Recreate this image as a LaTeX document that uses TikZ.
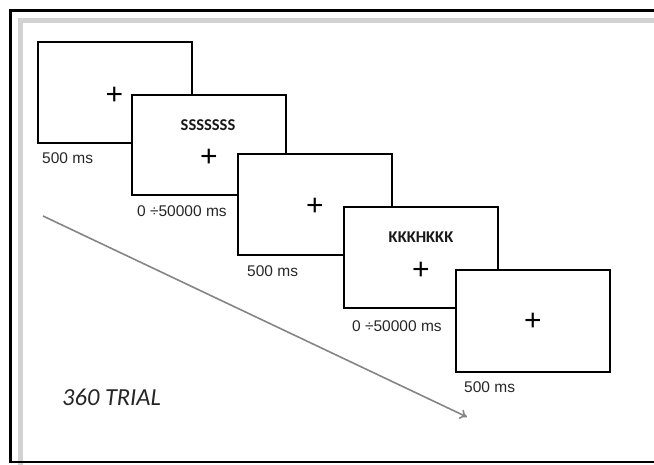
\documentclass[tikz,border=0pt]{standalone}
\usepackage{fontspec}
\setmainfont{Liberation Sans}
\newfontfamily\calib{Carlito}
\usetikzlibrary{arrows.meta}
\tikzset{
  screen/.style={draw=black, line width=2pt, fill=white},
  dur/.style={anchor=base west, inner sep=0pt, text=black!85, font=\fontsize{15.5}{18}\selectfont},
  stim/.style={anchor=base, inner sep=0pt, text=black!90, font=\calib\bfseries\fontsize{16.5}{18}\selectfont},
  fix/.style={inner sep=0pt, font=\fontsize{30}{32}\selectfont},
  timeline/.style={draw=black!48, line width=1.6pt, -{To[length=7pt,width=10pt]}},
}
\begin{document}
\begin{tikzpicture}[x=1pt,y=-1pt]
\useasboundingbox (0,0) rectangle (654,465);
% frame
\draw[gray!35, line width=5pt] (20.5,465) -- (20.5,20.5) -- (654,20.5);
\draw[black, line width=2.5pt] (654,10.5) -- (10.5,10.5) -- (10.5,462) -- (654,462);
% screens
\node[screen, minimum width=154pt, minimum height=101pt, inner sep=0pt] (s1) at (115,92.5) {};
\node[fix] (p1) at (114.5,96) {+};
\node[dur] (d1) at (42,164) {500 ms};
\node[screen, minimum width=154pt, minimum height=100pt, inner sep=0pt] (s2) at (209,145) {};
\node[stim] (t2) at (208,131) {SSSSSSS};
\node[fix] (p2) at (209,158) {+};
\node[dur] (d2) at (137,217) {0 ÷50000 ms};
\node[screen, minimum width=154pt, minimum height=101pt, inner sep=0pt] (s3) at (315,204.5) {};
\node[fix] (p3) at (315,207) {+};
\node[dur] (d3) at (247,277) {500 ms};
\node[screen, minimum width=154pt, minimum height=101pt, inner sep=0pt] (s4) at (421,257.5) {};
\node[stim] (t4) at (421,243) {KKKHKKK};
\node[fix] (p4) at (421,271) {+};
\node[dur] (d4) at (352,332) {0 ÷50000 ms};
\node[screen, minimum width=154pt, minimum height=102pt, inner sep=0pt] (s5) at (533,321) {};
\node[fix] (p5) at (533,322) {+};
\node[dur] (d5) at (464,392) {500 ms};
% time arrow
\coordinate (a0) at (43,216);
\coordinate (a1) at (467,417);
\draw[timeline] (a0) -- (a1);
\node[anchor=base west, inner sep=0pt, text=black!85, font=\calib\itshape\fontsize{24.5}{28}\selectfont] (trials) at (62,405) {360 TRIAL};
\end{tikzpicture}
\end{document}
